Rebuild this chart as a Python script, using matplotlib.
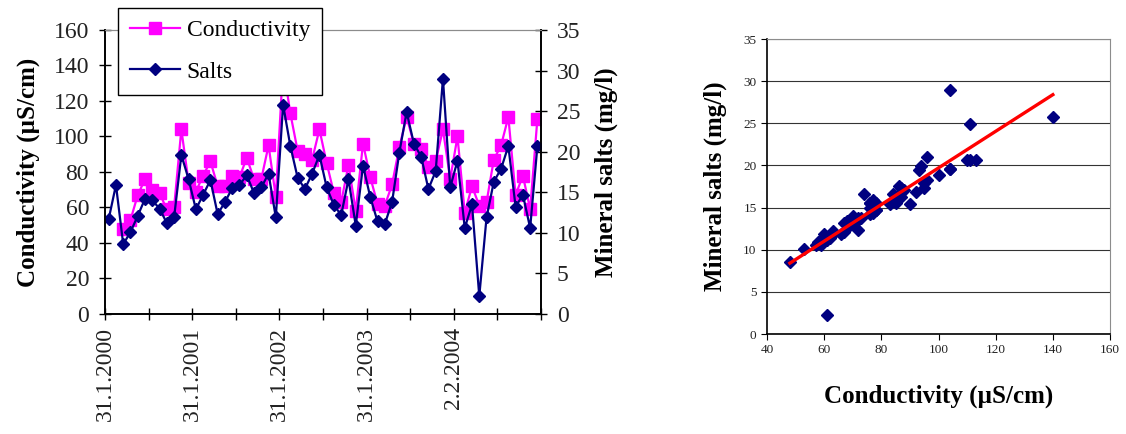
import numpy as np
import matplotlib
matplotlib.use("Agg")
import matplotlib.pyplot as plt

plt.rcParams['font.family'] = ['Liberation Serif', 'DejaVu Serif']

# monthly samples, Jan 2000 - Dec 2004 (first two months have no conductivity)
conductivity = [np.nan, np.nan, 48, 53, 67, 76, 70, 68, 59, 60,
                104, 74, 69, 78, 86, 72, 72, 78, 77, 88,
                76, 76, 95, 66, 140, 113, 92, 90, 87, 104,
                85, 68, 63, 84, 58, 96, 77, 62, 61, 73,
                94, 111, 96, 93, 83, 86, 104, 76, 100, 57,
                72, 61, 63, 87, 95, 111, 67, 78, 59, 110]
salts = [11.7, 15.9, 8.6, 10.1, 12.1, 14.2, 14.0, 13.0, 11.2, 11.9,
         19.6, 16.6, 12.9, 14.7, 16.5, 12.3, 13.8, 15.5, 15.9, 17.1,
         14.9, 15.6, 17.3, 11.9, 25.8, 20.7, 16.8, 15.4, 17.3, 19.6,
         15.6, 13.4, 12.2, 16.6, 10.9, 18.3, 14.4, 11.4, 11.1, 13.8,
         19.9, 24.9, 21.0, 19.4, 15.4, 17.6, 29.0, 15.6, 18.9, 10.6,
         13.5, 2.2, 11.9, 16.3, 17.9, 20.7, 13.2, 14.7, 10.6, 20.7]
date_labels = ["31.1.2000", "31.1.2001", "31.1.2002", "31.1.2003", "2.2.2004"]

cond = np.array(conductivity, dtype=float)
salt = np.array(salts, dtype=float)
n = len(salt)
xpos = np.arange(n) + 0.5

PINK = '#FF00FF'
NAVY = '#000080'

fig = plt.figure(figsize=(11.26, 4.34), dpi=100)

# --- left: time series ---
ax1 = fig.add_axes([0.0933, 0.2765, 0.3872, 0.6544])
ax2 = ax1.twinx()

l1, = ax1.plot(xpos, cond, '-', color=PINK, lw=1.6, marker='s', ms=8.5,
               mec=PINK, mfc=PINK, label='Conductivity')
l2, = ax2.plot(xpos, salt, '-', color=NAVY, lw=1.6, marker='D', ms=6.2,
               mec=NAVY, mfc=NAVY, label='Salts')

ax1.set_xlim(0, n)
ax1.set_ylim(0, 160)
ax2.set_ylim(0, 35)
ax1.set_yticks(np.arange(0, 161, 20))
ax2.set_yticks(np.arange(0, 36, 5))
ticks = np.arange(0, n + 1, 6)
ax1.set_xticks(ticks)
labs = [''] * len(ticks)
for k, lab in enumerate(date_labels):
    labs[2 * k] = lab
ax1.set_xticklabels(labs, rotation=90, fontsize=17, color='#222222')

for a in (ax1, ax2):
    a.tick_params(direction='inout', length=9, width=1, labelsize=17,
                  labelcolor='#222222', pad=7)
    a.spines['top'].set_color('#8c8c8c')
    for s in ('left', 'right', 'bottom'):
        a.spines[s].set_linewidth(1.2)
ax1.tick_params(axis='x', pad=5)
ax1.set_ylabel('Conductivity (µS/cm)', fontsize=18, fontweight='bold',
               labelpad=10)
ax2.set_ylabel('Mineral salts (mg/l)', fontsize=18, fontweight='bold',
               labelpad=10)

leg = fig.legend(handles=[l1, l2], loc='upper left',
                 bbox_to_anchor=(0.105, 0.982), fontsize=17, frameon=True,
                 fancybox=False, edgecolor='black', framealpha=1,
                 handlelength=2.1, handletextpad=0.3, labelspacing=0.85,
                 borderpad=0.5, borderaxespad=0)
leg.get_frame().set_linewidth(1.0)

# --- right: scatter with linear trend ---
ax3 = fig.add_axes([0.6812, 0.2304, 0.3046, 0.6797])
ok = ~np.isnan(cond)
ax3.plot(cond[ok], salt[ok], 'D', color=NAVY, ms=5.8, mec=NAVY, zorder=3)
coef = np.polyfit(cond[ok], salt[ok], 1)
xt = np.array([cond[ok].min(), cond[ok].max()])
ax3.plot(xt, np.polyval(coef, xt), '-', color='#FF0000', lw=2.4, zorder=4)

ax3.set_xlim(40, 160)
ax3.set_ylim(0, 35)
ax3.set_xticks(np.arange(40, 161, 20))
ax3.set_yticks(np.arange(0, 36, 5))
ax3.yaxis.grid(True, color='#333333', lw=0.8)
ax3.set_axisbelow(True)
ax3.tick_params(direction='out', length=4, labelsize=9.5, labelcolor='#222222')
ax3.spines['top'].set_color('#8c8c8c')
ax3.spines['right'].set_color('#8c8c8c')
ax3.spines['left'].set_linewidth(1.2)
ax3.spines['bottom'].set_linewidth(1.2)
ax3.set_xlabel('Conductivity (µS/cm)', fontsize=18, fontweight='bold',
               labelpad=20)
ax3.set_ylabel('Mineral salts (mg/l)', fontsize=18, fontweight='bold',
               labelpad=12)

fig.savefig('out.png', dpi=100)
